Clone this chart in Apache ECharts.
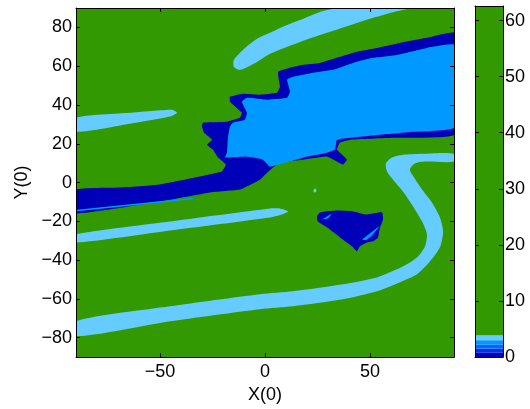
<!DOCTYPE html>
<html>
<head>
<meta charset="utf-8">
<script src="https://cdn.jsdelivr.net/npm/echarts@6/dist/echarts.min.js"></script>
<style>
  html, body { margin: 0; padding: 0; background: #fff; }
  #main { width: 530px; height: 409px; }
</style>
</head>
<body>
<div id="main"></div>
<script>
// tick labels
var xTicks = [-50, 0, 50];
var yTicks = [-80, -60, -40, -20, 0, 20, 40, 60, 80];
var cbTicks = [0, 10, 20, 30, 40, 50, 60];

// contour levels (colorbar) and their colours
var levels = [0, 0.75, 1.5, 2.25, 3.0, 3.9, 62.6];
var levelColors = ['#0000b8', '#0033e6', '#0066ff', '#0099ff', '#66ccff', '#339900'];

// filled regions, vertices in data units (X, Y)
var bandLow = [[-90,-79.2],[-45.2,-71.5],[-2.4,-65.3],[13.3,-63.8],[37.1,-60.2],[53.3,-56.1],[64.3,-51.4],
  [72.4,-47.3],[78.6,-40.6],[83.3,-33.4],[84.8,-25.2],[83.3,-18],[79.5,-10.3],[74.8,-3.6],[71,2.6],[69,6.7],
  [71.4,9.8],[76.2,10.8],[90,10.8],[90,14.9],[76.2,14.9],[66.7,14.4],[60.5,12.9],[57.6,9.8],[58.1,5.7],
  [61,1.5],[65.7,-4.6],[70.5,-12.3],[74.8,-20.1],[77.1,-26.7],[76.2,-32.9],[72.9,-38.1],[66.7,-42.7],
  [59.5,-46.3],[53.3,-48.9],[37.1,-52.5],[13.3,-56.1],[-2.4,-57.6],[-45.2,-63.8],[-90,-71.5]];
var bandMid = [[-90,-30.9],[-45.2,-24.7],[2.4,-18],[8.1,-16.5],[11,-14.9],[7.1,-13.4],[2.4,-13.4],
  [-45.2,-20.1],[-90,-26.7]];
var bandLeft = [[-90,26.2],[-64.3,30.3],[-45.2,34],[-41.9,36],[-44.3,37.6],[-64.3,36],[-90,33.4]];
var bandTop = [[-11.9,58.1],[-3.8,62.2],[2.4,66.4],[16.7,72.5],[31,77.7],[45.2,82.8],[59.5,87.4],[69,90],
  [35.7,90],[26.2,88],[16.7,83.8],[9.5,80.8],[2.4,77.2],[-3.8,74.1],[-10.5,68.4],[-14.8,63.3],[-14.8,59.7]];
var darkBlob = [[-90,-3.6],[-69,-2.6],[-50,-1],[-31,3.1],[-20.5,5.7],[-18.6,9.3],[-22.4,12.9],[-24.8,17],
  [-27.6,19.5],[-25.2,22.1],[-29,25.7],[-30,28.8],[-29.5,30.9],[-18.1,31.4],[-11.9,33.4],[-11,36],[-16.7,41.7],
  [-16.7,44.2],[-10.5,45.8],[-2.4,45.3],[5.7,46.3],[7.1,49.4],[6.2,57.1],[11.9,59.2],[18.1,60.7],
  [26.2,61.7],[34.3,64.3],[43.8,67.4],[53.3,69.4],[64.3,72],[77.1,74.6],[90,77.2],[90,24.7],[61,23.1],
  [40.5,22.1],[35.7,20.6],[34.3,17],[39,11.8],[37.1,9.3],[29.5,13.4],[18.1,11.8],[7.1,10.3],[1,5.1],
  [-2.4,1.5],[-11.9,-3.6],[-26.2,-5.1],[-50,-9.8],[-90,-15.9]];
var midBlob = [[-16.7,28.8],[-17.6,23.7],[-18.1,15.4],[-19,12.9],[-8.6,13.4],[-1,11.8],[2.4,8.2],
  [11.9,10.8],[20,13.4],[29.5,15.4],[33.3,17],[34.3,22.1],[40.5,23.1],[54.8,24.7],[70.5,26.2],[90,28.3],
  [90,71],[77.1,69.4],[62.9,65.8],[51.4,64.3],[41.9,61.7],[32.4,58.1],[22.9,56.6],[13.3,54.5],[10.5,53],
  [11.9,46.8],[10.5,43.7],[1,42.7],[-8.6,43.7],[-11,41.7],[-8.6,36],[-9.5,32.4],[-15.2,30.9]];
var darkTri = [[24.8,-17.5],[26.2,-15.4],[34.3,-14.4],[41.9,-14.9],[48.6,-16.5],[55.7,-15.4],[56.2,-19],
  [54.8,-23.1],[53.8,-28.3],[51.4,-30.3],[48.6,-30.9],[45.2,-32.9],[43.8,-35.5],[41.4,-32.9],[35.7,-28.3],
  [29.5,-23.1],[25.2,-20.1]];
var triStreak1 = [[27.1,-19],[31.9,-15.9],[30,-18.5]];
var triStreak2 = [[46.2,-29.3],[54.8,-22.1],[51,-27.3],[48.1,-29.8]];
var speck = [[23.3,-3.6],[24.3,-3.4],[24.3,-4.8],[23.3,-5]];
var wedgeLine = [[-89.5,-14.0],[-34.3,-7.8],[-34.3,-8.6],[-89.5,-14.8]];

var shapes = [
  { pts: bandLow, color: levelColors[4], smooth: 0.25 },
  { pts: bandMid, color: levelColors[4], smooth: 0.2 },
  { pts: bandLeft, color: levelColors[4], smooth: 0.2 },
  { pts: bandTop, color: levelColors[4], smooth: 0.25 },
  { pts: darkBlob, color: levelColors[0], smooth: 0.1 },
  { pts: midBlob, color: levelColors[3], smooth: 0.1 },
  { pts: darkTri, color: levelColors[0], smooth: 0.15 },
  { pts: triStreak1, color: levelColors[3], smooth: 0 },
  { pts: triStreak2, color: levelColors[3], smooth: 0 },
  { pts: speck, color: levelColors[4], smooth: 0.5 },
  { pts: wedgeLine, color: levelColors[3], smooth: 0 }
];

var font = '"Liberation Sans", Arial, sans-serif';
var fs = 18;
var minus = function (v) { return String(v).replace('-', '\u2212'); };

var dom = document.getElementById('main');
var myChart = echarts.init(dom, null, { renderer: 'canvas' });

var tickStyle = { show: true, inside: true, length: 4, lineStyle: { color: '#000', width: 1 } };

var option = {
  animation: false,
  textStyle: { fontFamily: font },
  grid: [
    { left: 76, top: 8, width: 378, height: 350, show: true, backgroundColor: levelColors[5], borderWidth: 0 },
    { left: 475, top: 6, width: 28, height: 351 }
  ],
  xAxis: [
    { gridIndex: 0, type: 'value', min: -90, max: 90, position: 'bottom', z: 5,
      name: 'X(0)', nameLocation: 'middle', nameGap: 26,
      nameTextStyle: { fontSize: fs, color: '#000', fontFamily: font },
      axisLine: { onZero: false, lineStyle: { color: '#000', width: 1 } },
      axisTick: Object.assign({ customValues: xTicks }, tickStyle),
      axisLabel: { customValues: xTicks, formatter: minus, fontSize: fs, color: '#000', margin: 6, fontFamily: font },
      splitLine: { show: false } },
    { gridIndex: 0, type: 'value', min: -90, max: 90, position: 'top', z: 5,
      axisLine: { onZero: false, lineStyle: { color: '#000', width: 1 } },
      axisTick: Object.assign({ customValues: xTicks }, tickStyle),
      axisLabel: { show: false }, splitLine: { show: false } },
    { gridIndex: 1, type: 'value', min: 0, max: 1, position: 'bottom', z: 5,
      axisLine: { onZero: false, lineStyle: { color: '#000' } }, axisTick: { show: false },
      axisLabel: { show: false }, splitLine: { show: false } },
    { gridIndex: 1, type: 'value', min: 0, max: 1, position: 'top', z: 5,
      axisLine: { onZero: false, lineStyle: { color: '#000' } }, axisTick: { show: false },
      axisLabel: { show: false }, splitLine: { show: false } }
  ],
  yAxis: [
    { gridIndex: 0, type: 'value', min: -90, max: 90, position: 'left', z: 5,
      name: 'Y(0)', nameLocation: 'middle', nameGap: 44, nameRotate: 90,
      nameTextStyle: { fontSize: fs, color: '#000', fontFamily: font },
      axisLine: { onZero: false, lineStyle: { color: '#000', width: 1 } },
      axisTick: Object.assign({ customValues: yTicks }, tickStyle),
      axisLabel: { customValues: yTicks, formatter: minus, fontSize: fs, color: '#000', margin: 4, fontFamily: font },
      splitLine: { show: false } },
    { gridIndex: 0, type: 'value', min: -90, max: 90, position: 'right', z: 5,
      axisLine: { onZero: false, lineStyle: { color: '#000', width: 1 } },
      axisTick: Object.assign({ customValues: yTicks }, tickStyle),
      axisLabel: { show: false }, splitLine: { show: false } },
    { gridIndex: 1, type: 'value', min: 0, max: 62.6, position: 'right', z: 5,
      axisLine: { onZero: false, lineStyle: { color: '#000', width: 1 } },
      axisTick: Object.assign({ customValues: cbTicks }, tickStyle),
      axisLabel: { customValues: cbTicks, fontSize: fs, color: '#000', margin: 2, fontFamily: font },
      splitLine: { show: false } },
    { gridIndex: 1, type: 'value', min: 0, max: 62.6, position: 'left', z: 5,
      axisLine: { onZero: false, lineStyle: { color: '#000', width: 1 } },
      axisTick: Object.assign({ customValues: cbTicks }, tickStyle),
      axisLabel: { show: false }, splitLine: { show: false } }
  ],
  series: [
    {
      type: 'custom',
      xAxisIndex: 0, yAxisIndex: 0,
      clip: true,
      z: 1,
      data: shapes.map(function (s, i) { return [0, 0, i]; }),
      encode: { x: 0, y: 1 },
      renderItem: function (params, api) {
        var s = shapes[api.value(2)];
        var points = s.pts.map(function (p) { return api.coord(p); });
        return {
          type: 'polygon',
          shape: { points: points, smooth: s.smooth },
          style: { fill: s.color, stroke: null }
        };
      }
    },
    {
      type: 'custom',
      xAxisIndex: 2, yAxisIndex: 2,
      z: 1,
      data: levelColors.map(function (c, i) { return [0, levels[i], i]; }),
      encode: { x: 0, y: 1 },
      renderItem: function (params, api) {
        var i = api.value(2);
        var p0 = api.coord([0, levels[i + 1]]);
        var p1 = api.coord([1, levels[i]]);
        return {
          type: 'rect',
          shape: { x: p0[0], y: p0[1], width: p1[0] - p0[0], height: p1[1] - p0[1] },
          style: { fill: levelColors[i], stroke: null }
        };
      }
    }
  ]
};

myChart.setOption(option);
</script>
</body>
</html>
